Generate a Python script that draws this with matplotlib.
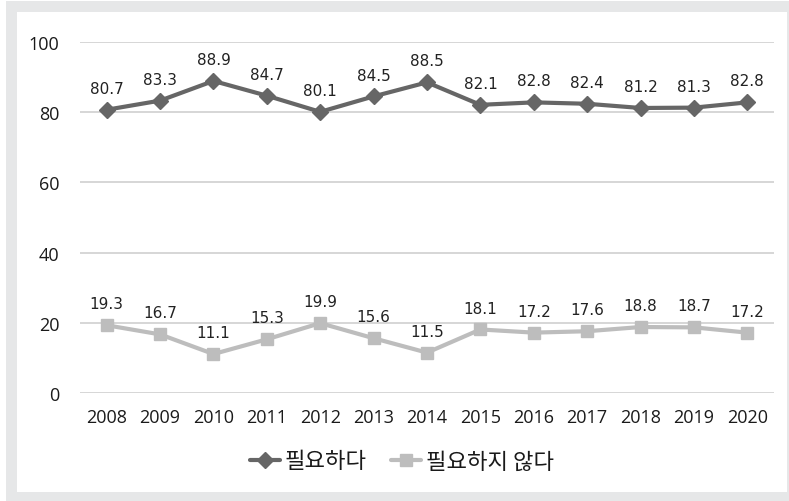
import matplotlib
matplotlib.use("Agg")
import matplotlib.pyplot as plt
from matplotlib.patches import Rectangle

years = ["2008", "2009", "2010", "2011", "2012", "2013", "2014",
         "2015", "2016", "2017", "2018", "2019", "2020"]
needed = [80.7, 83.3, 88.9, 84.7, 80.1, 84.5, 88.5, 82.1, 82.8, 82.4, 81.2, 81.3, 82.8]
not_needed = [19.3, 16.7, 11.1, 15.3, 19.9, 15.6, 11.5, 18.1, 17.2, 17.6, 18.8, 18.7, 17.2]
series_names = ["필요하다", "필요하지 않다"]
y_ticks = [0, 20, 40, 60, 80, 100]

W, H = 789, 502
fig = plt.figure(figsize=(W / 100, H / 100), dpi=100)

# light grey frame around the white panel
fig.patches.append(Rectangle((6 / W, 0), 783 / W, 1 - 2 / H, transform=fig.transFigure,
                             facecolor="#E6E7E8", edgecolor="none", zorder=-2))
fig.patches.append(Rectangle((17 / W, 1 - 493 / H), 770 / W, 480 / H, transform=fig.transFigure,
                             facecolor="white", edgecolor="none", zorder=-1))

ax = fig.add_axes([80 / W, 1 - 394 / H, 694 / W, 351 / H])
ax.set_zorder(1)
ax.set_facecolor("none")

x = list(range(len(years)))
dark = "#666666"
light = "#BDBDBD"

ax.plot(x, needed, color=dark, lw=3, marker="D", markersize=8, label=series_names[0],
        zorder=3, solid_capstyle="round")
ax.plot(x, not_needed, color=light, lw=3, marker="s", markersize=9, label=series_names[1],
        zorder=3, solid_capstyle="round")

for series in (needed, not_needed):
    for xi, v in zip(x, series):
        ax.annotate(f"{v:.1f}", (xi, v), xytext=(0, 10), textcoords="offset points",
                    ha="center", va="bottom", fontsize=11, family="DejaVu Sans",
                    color="#222222")

ax.set_xlim(-0.5, len(years) - 0.5)
ax.set_ylim(0, 100)
ax.set_yticks(y_ticks)
ax.set_xticks(x)
ax.set_xticklabels(years)
ax.grid(axis="y", color="#D0D0D0", lw=1.2)
ax.set_axisbelow(True)
for s in ax.spines.values():
    s.set_visible(False)
ax.tick_params(length=0, labelsize=13, colors="#1a1a1a")
ax.tick_params(axis="y", pad=15)
ax.tick_params(axis="x", pad=11)
for lab in ax.get_xticklabels() + ax.get_yticklabels():
    lab.set_family("Open Sans")

leg = ax.legend(loc="center", bbox_to_anchor=(0.5 + (402 - 427) / 694, (394 - 462) / 351),
                ncol=2, frameon=False, handlelength=1.35, columnspacing=1.1, handletextpad=0.2,
                prop={"family": ["Noto Sans CJK KR", "DejaVu Sans"], "size": 16})
for t in leg.get_texts():
    t.set_color("#1a1a1a")

fig.savefig("out.png", dpi=100)
